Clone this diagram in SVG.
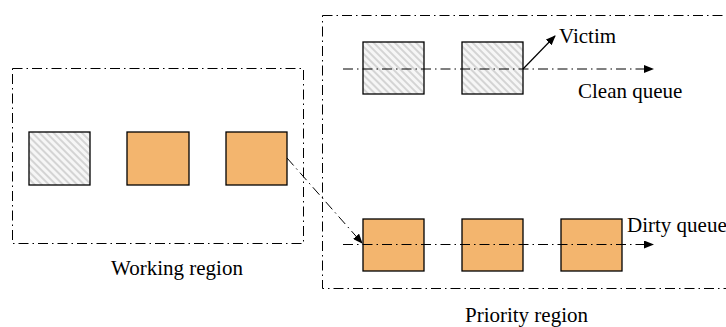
<svg xmlns="http://www.w3.org/2000/svg" width="726" height="327" viewBox="0 0 726 327">
<style>
.region{fill:none;stroke:#000;stroke-width:1;stroke-dasharray:10 4 1.5 4}
.q{fill:none;stroke:#000;stroke-width:1;stroke-dasharray:10 4 1.5 4}
.clean{fill:url(#hatch);stroke:#000;stroke-width:1.3}
.dirty{fill:#F3B56E;stroke:#000;stroke-width:1.3}
text{font-family:"Liberation Serif","Times New Roman",serif;font-size:21px;fill:#000}
</style>
<defs>
<pattern id="hatch" patternUnits="userSpaceOnUse" width="5" height="5" patternTransform="rotate(45)">
<rect width="5" height="5" fill="#f6f6f6"/>
<rect width="5" height="2" fill="#d4d4d4"/>
</pattern>
<marker id="arr" markerWidth="10" markerHeight="8" refX="9" refY="4" orient="auto" markerUnits="userSpaceOnUse">
<path d="M0,0 L10,4 L0,8 Z" fill="#000"/>
</marker>
</defs>
<g id="working-region">
<rect class="region" x="12.5" y="68.5" width="291" height="175"/>
<text x="177" y="274.5" text-anchor="middle">Working region</text>
</g>
<g id="priority-region">
<rect class="region" x="322.5" y="15.5" width="420" height="273"/>
<text x="526.5" y="321.5" text-anchor="middle">Priority region</text>
</g>
<g id="w1"><rect class="clean" x="29" y="132" width="61" height="53"/></g>
<g id="w2"><rect class="dirty" x="127" y="132" width="62" height="53"/></g>
<g id="w3"><rect class="dirty" x="226" y="132" width="61" height="53"/></g>
<g id="c1"><rect class="clean" x="363" y="42" width="61" height="52"/></g>
<g id="c2"><rect class="clean" x="462" y="42" width="61" height="52"/></g>
<g id="d1"><rect class="dirty" x="363" y="219" width="61" height="52"/></g>
<g id="d2"><rect class="dirty" x="462" y="219" width="61" height="52"/></g>
<g id="d3"><rect class="dirty" x="561" y="219" width="61" height="52"/></g>
<g id="connectors">
<line class="q" x1="343" y1="69" x2="653" y2="69" marker-end="url(#arr)"/>
<line class="q" x1="343" y1="244.5" x2="653" y2="244.5" marker-end="url(#arr)"/>
<line x1="523" y1="69" x2="555" y2="36" stroke="#000" stroke-width="1.2" marker-end="url(#arr)"/>
<line class="q" x1="287" y1="158" x2="362" y2="243" marker-end="url(#arr)"/>
</g>
<g id="labels">
<text x="559" y="42.5">Victim</text>
<text x="578" y="98">Clean queue</text>
<text x="627" y="232">Dirty queue</text>
</g>
</svg>
